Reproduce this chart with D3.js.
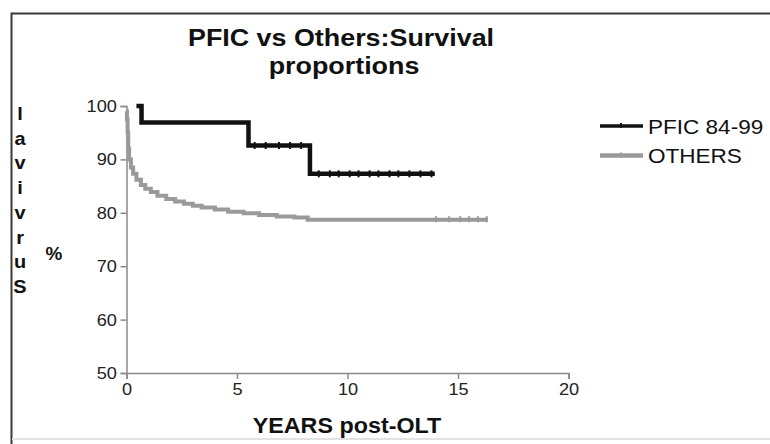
<!DOCTYPE html>
<html>
<head>
<meta charset="utf-8">
<script src="https://cdn.jsdelivr.net/npm/d3@7"></script>
<style>
  body { margin: 0; background: #fff; }
  svg { display: block; font-family: "Liberation Sans", Arial, sans-serif; }
</style>
</head>
<body>
<div id="chart"></div>
<script>
// Kaplan-Meier steps
const pficTimes = [0.45, 0.68, 5.52, 8.3, 13.95];
const pficSurv = [100, 96.9, 92.6, 87.3, 87.3];
const pficCensored = [5.8, 6.3, 6.9, 7.4, 7.9, 8.7, 9.2, 9.6, 10.1, 10.5, 11.0, 11.4, 11.9, 12.3, 12.8, 13.3, 13.8];

const otherTimes = [0, 0.02, 0.05, 0.08, 0.12, 0.2, 0.3, 0.45, 0.65, 0.85, 1.1, 1.4, 1.8, 2.2, 2.6, 3.0, 3.4, 4.0, 4.6, 5.3, 6.0, 6.8, 7.6, 8.2, 16.35];
const otherSurv = [99, 97.5, 95, 92, 90, 88.5, 87.3, 86.2, 85.2, 84.5, 83.9, 83.2, 82.6, 82.1, 81.7, 81.3, 81.0, 80.6, 80.2, 79.9, 79.6, 79.3, 79.1, 78.7, 78.7];
const otherCensored = [14.0, 14.6, 15.1, 15.5, 15.9, 16.3];

const xTicks = [0, 5, 10, 15, 20];
const yTicks = [50, 60, 70, 80, 90, 100];
const seriesNames = ['PFIC 84-99', 'OTHERS'];
const seriesColors = ['#111', '#9a9a9a'];
const yLetters = ['l', 'a', 'v', 'i', 'v', 'r', 'u', 'S'];

const width = 770;
const height = 444;
const marginLeft = 126.5;
const marginTop = 106;
const plotW = 442;
const plotH = 267;

const svg = d3.select('#chart').append('svg')
    .attr('width', width)
    .attr('height', height);

// the original text looks a little stretched sideways
function addText(parent, x, y, str, size, sx, bold, anchor) {
  return parent.append('text')
    .attr('transform', `translate(${x}, ${y}) scale(${sx}, 1)`)
    .attr('text-anchor', anchor || 'middle')
    .style('font-size', size + 'px')
    .style('font-weight', bold ? 'bold' : 'normal')
    .attr('fill', '#111')
    .text(str);
}

// outer frame (runs off the right edge)
svg.append('path')
  .attr('d', `M${width + 5},13.5 H11.5 V${height + 5}`)
  .attr('fill', 'none')
  .attr('stroke', '#3a3a3a')
  .attr('stroke-width', 2);
svg.append('line')
  .attr('x1', 12).attr('x2', width)
  .attr('y1', 439).attr('y2', 439)
  .attr('stroke', '#e2e2e2')
  .attr('stroke-width', 2);

const x = d3.scaleLinear().domain([0, 20]).range([marginLeft, marginLeft + plotW]);
const y = d3.scaleLinear().domain([50, 100]).range([marginTop + plotH, marginTop]);

// axes
const xAxis = d3.axisBottom(x).tickValues(xTicks).tickSize(6).tickPadding(4);
const yAxis = d3.axisLeft(y).tickValues(yTicks).tickSize(6).tickPadding(3);

const gx = svg.append('g')
    .attr('transform', `translate(0, ${marginTop + plotH})`)
    .call(xAxis);
const gy = svg.append('g')
    .attr('transform', `translate(${marginLeft}, 0)`)
    .call(yAxis);

[gx, gy].forEach(g => {
  g.select('.domain').attr('stroke', '#8a8a8a').attr('stroke-width', 1.5);
  g.selectAll('.tick line').attr('stroke', '#8a8a8a').attr('stroke-width', 1.5);
  g.selectAll('.tick text')
    .attr('fill', '#222')
    .attr('transform', 'scale(1.07, 1)')
    .style('font-size', '17px')
    .style('font-family', '"Liberation Sans", Arial, sans-serif');
});

// survival curves
const line = d3.line()
  .x(d => x(d[0]))
  .y(d => y(d[1]))
  .curve(d3.curveStepAfter);

const otherData = otherTimes.map((t, i) => [t, otherSurv[i]]);
const pficData = pficTimes.map((t, i) => [t, pficSurv[i]]);

svg.append('path')
  .datum(otherData)
  .attr('fill', 'none')
  .attr('stroke', seriesColors[1])
  .attr('stroke-width', 4)
  .attr('d', line);

svg.append('path')
  .datum(pficData)
  .attr('fill', 'none')
  .attr('stroke', seriesColors[0])
  .attr('stroke-width', 4.5)
  .attr('d', line);

// censor marks
function survAt(times, surv, t) {
  let v = surv[0];
  times.forEach((tt, i) => { if (tt <= t) v = surv[i]; });
  return v;
}

svg.append('g').selectAll('line')
  .data(otherCensored)
  .enter()
  .append('line')
  .attr('x1', d => x(d)).attr('x2', d => x(d))
  .attr('y1', d => y(survAt(otherTimes, otherSurv, d)) - 3.5)
  .attr('y2', d => y(survAt(otherTimes, otherSurv, d)) + 2.5)
  .attr('stroke', seriesColors[1])
  .attr('stroke-width', 2);

svg.append('g').selectAll('line')
  .data(pficCensored)
  .enter()
  .append('line')
  .attr('x1', d => x(d)).attr('x2', d => x(d))
  .attr('y1', d => y(survAt(pficTimes, pficSurv, d)) - 3.5)
  .attr('y2', d => y(survAt(pficTimes, pficSurv, d)) + 3.5)
  .attr('stroke', seriesColors[0])
  .attr('stroke-width', 2);

// title
addText(svg, 341, 46, 'PFIC vs Others:Survival', 24, 1.12, true);
addText(svg, 344, 74, 'proportions', 24, 1.12, true);

// x axis title
addText(svg, 347, 433, 'YEARS post-OLT', 22, 1.06, true);

// y axis title, stacked letters
yLetters.forEach((l, i) => addText(svg, 20, 120 + i * 24.7, l, 19, 1.05, true));
addText(svg, 54, 260, '%', 18, 1.05, true);

// legend
const legend = svg.append('g')
  .attr('transform', 'translate(600, 126)');

seriesNames.forEach((name, i) => {
  const item = legend.append('g').attr('transform', `translate(0, ${i * 29.5})`);
  item.append('line')
    .attr('x1', 0).attr('x2', 43)
    .attr('stroke', seriesColors[i])
    .attr('stroke-width', i === 0 ? 3.5 : 4.5);
  item.append('line')
    .attr('x1', 21).attr('x2', 21)
    .attr('y1', -3).attr('y2', 2)
    .attr('stroke', seriesColors[i])
    .attr('stroke-width', 2);
  addText(item, 48, 7.5, name, 20.5, 1.1, false, 'start');
});
</script>
</body>
</html>
